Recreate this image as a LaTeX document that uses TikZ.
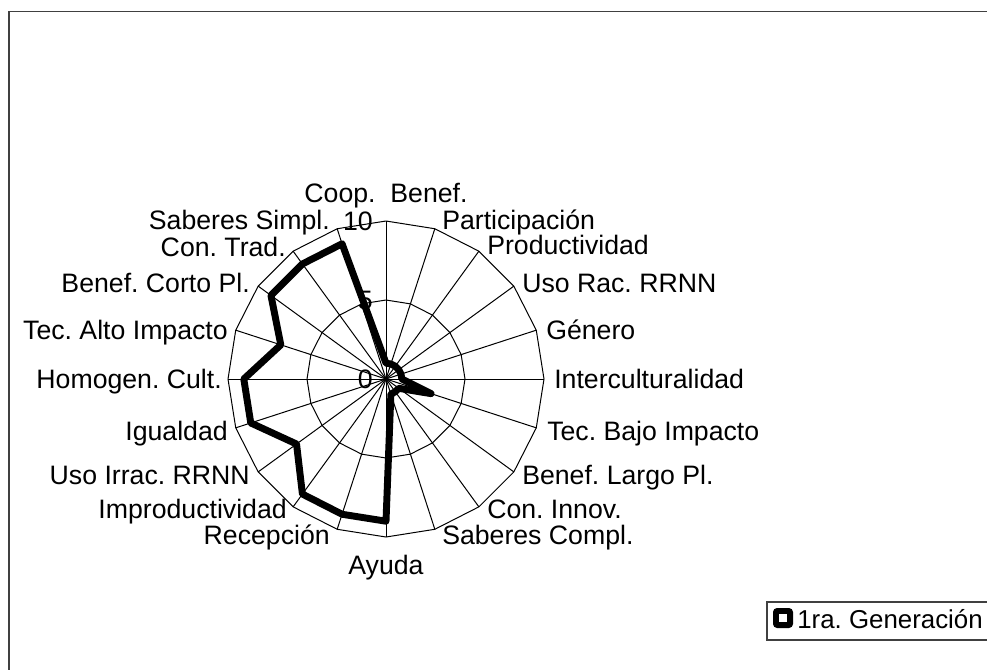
\documentclass[tikz,border=0pt]{standalone}
\usepackage{fontspec}
\setmainfont{Liberation Sans}
\frenchspacing
\begin{document}
\begin{tikzpicture}[x=0.75pt,y=-0.75pt,
  lbl/.style={font=\fontsize{20}{22}\selectfont, inner sep=0pt, text=black},
  gridline/.style={draw=black, line width=0.75pt},
  series/.style={draw=black, line width=5.2pt, line join=round},
  frameline/.style={draw=black!75, line width=1.4pt}]
\clip (0,0) rectangle (987,669);
\fill[white] (0,0) rectangle (987,669);
\draw[frameline] (9,11.5) rectangle (1100,800);
\coordinate (c) at (386,379);
\begin{scope}[shift={(c)}]
  % spoke ends
  \foreach \k in {0,...,19} \coordinate (s\k) at ({18*\k-90}:158);
  % rings at 5 and 10
  \draw[gridline] (-90:79) \foreach \k in {1,...,19}{ -- ({18*\k-90}:79) } -- cycle;
  \draw[gridline] (s0) \foreach \k in {1,...,19}{ -- (s\k) } -- cycle;
  \foreach \k in {0,...,19} \draw[gridline] (0,0) -- (s\k);
\end{scope}
% axis value labels
\node[lbl, anchor=east] (v10) at (373,221) {10};
\node[lbl, anchor=east] (v5) at (373,300) {5};
\node[lbl, anchor=east] (v0) at (373,379) {0};
% category labels
\node[lbl, anchor=base] (l0) at (386,202) {Coop.\ \ Benef.};
\node[lbl, anchor=base west] (l1) at (442,229) {Participación};
\node[lbl, anchor=base west] (l2) at (487,254) {Productividad};
\node[lbl, anchor=base west] (l3) at (522,292) {Uso Rac. RRNN};
\node[lbl, anchor=base west] (l4) at (546,339) {Género};
\node[lbl, anchor=base west] (l5) at (554,388) {Interculturalidad};
\node[lbl, anchor=base west] (l6) at (547,440) {Tec. Bajo Impacto};
\node[lbl, anchor=base west] (l7) at (522,484) {Benef. Largo Pl.};
\node[lbl, anchor=base west] (l8) at (487,518) {Con. Innov.};
\node[lbl, anchor=base west] (l9) at (442,544) {Saberes Compl.};
\node[lbl, anchor=base] (l10) at (386,574) {Ayuda};
\node[lbl, anchor=base east] (l11) at (330,544) {Recepción};
\node[lbl, anchor=base east] (l12) at (287,518) {Improductividad};
\node[lbl, anchor=base east] (l13) at (250,484) {Uso Irrac. RRNN};
\node[lbl, anchor=base east] (l14) at (228,440) {Igualdad};
\node[lbl, anchor=base east] (l15) at (222,388) {Homogen. Cult.};
\node[lbl, anchor=base east] (l16) at (228,339) {Tec. Alto Impacto};
\node[lbl, anchor=base east] (l17) at (250,292) {Benef. Corto Pl.};
\node[lbl, anchor=base east] (l18) at (286,256) {Con. Trad.};
\node[lbl, anchor=base east] (l19) at (330,229) {Saberes Simpl.};
% data series
\begin{scope}[shift={(c)}]
  \draw[series] (-90:15.8) \foreach \k/\v in {1/1,2/1,3/1,4/1,5/1,6/3,7/1,8/1,9/1,10/9,11/9,12/9,13/7,14/9,15/9,16/7,17/9,18/9,19/9}{ -- ({18*\k-90}:{15.8*\v}) } -- cycle;
\end{scope}
% legend
\draw[draw=black!75, line width=0.8pt] (767,602) rectangle (1100,640);
\node[fill=black, rounded corners=3pt, minimum size=15pt, inner sep=0pt] (mk) at (783,618) {};
\node[fill=white, minimum size=5.5pt, inner sep=0pt] (mki) at (mk.center) {};
\node[lbl, font=\fontsize{19.4}{22}\selectfont, anchor=base west] (lg) at (797,628) {1ra. Generación};
\end{tikzpicture}
\end{document}
